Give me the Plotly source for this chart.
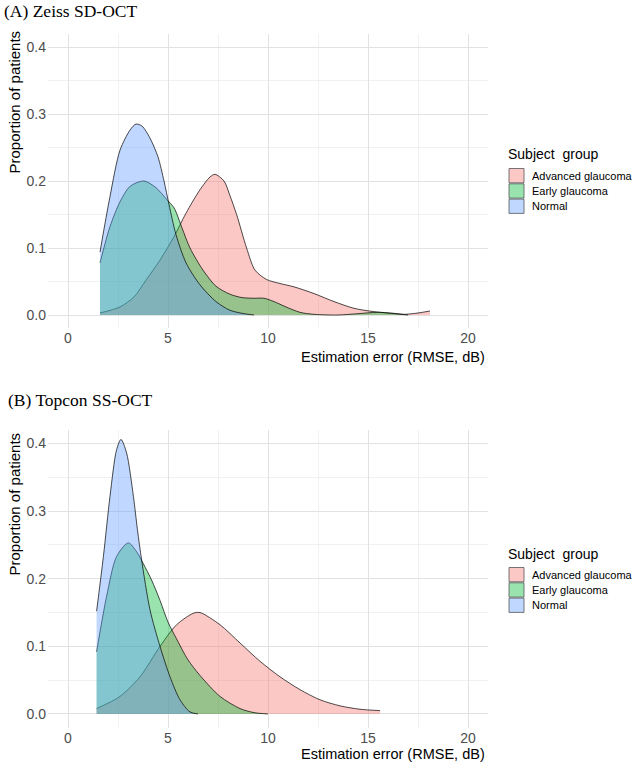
import plotly.graph_objects as go

# ---------------- data ----------------
groups = ["Advanced glaucoma", "Early glaucoma", "Normal"]
fill_colors = ["rgba(248,118,109,0.4)", "rgba(0,186,56,0.4)", "rgba(97,156,255,0.4)"]

# Panel A: Zeiss SD-OCT
zeiss_adv_x = [1.6, 2.6, 3.3, 3.9, 4.6, 5.3, 5.9, 6.6, 7.1, 7.35, 7.8, 8.1, 8.43, 8.93, 9.35, 9.93,
               10.6, 11.3, 12.3, 13.3, 14.3, 15.3, 16.3, 16.8, 17.5, 18.1]
zeiss_adv_y = [0.003, 0.012, 0.027, 0.052, 0.082, 0.117, 0.152, 0.187, 0.206, 0.210, 0.200, 0.178, 0.150,
               0.100, 0.067, 0.053, 0.047, 0.042, 0.032, 0.020, 0.010, 0.005, 0.0025, 0.001, 0.003, 0.006]

zeiss_early_x = [1.6, 2.1, 2.6, 3.1, 3.8, 4.4, 4.95, 5.3, 5.7, 6.1, 6.75, 7.4, 8.1, 8.7, 9.3, 9.8,
                 10.3, 10.9, 11.6, 12.3, 13.5, 14.5, 15.5, 16.3, 17.0]
zeiss_early_y = [0.078, 0.132, 0.169, 0.192, 0.200, 0.190, 0.172, 0.160, 0.130, 0.100, 0.067, 0.043, 0.031,
                 0.026, 0.025, 0.025, 0.020, 0.012, 0.004, 0.001, 0.0, 0.002, 0.004, 0.002, 0.0]

zeiss_norm_x = [1.6, 2.1, 2.6, 3.1, 3.4, 3.7, 4.1, 4.5, 4.8, 5.05, 5.4, 5.9, 6.6, 7.4, 8.1, 8.8, 9.3]
zeiss_norm_y = [0.094, 0.177, 0.246, 0.276, 0.285, 0.282, 0.264, 0.236, 0.200, 0.165, 0.120, 0.078,
                0.045, 0.020, 0.007, 0.002, 0.0]

# Panel B: Topcon SS-OCT
topcon_adv_x = [1.43, 2.6, 3.6, 4.6, 5.43, 6.27, 6.6, 7.6, 8.6, 9.6, 10.6, 11.6, 12.6, 13.6, 14.6, 15.6]
topcon_adv_y = [0.008, 0.026, 0.055, 0.100, 0.132, 0.149, 0.150, 0.132, 0.105, 0.078, 0.055, 0.036,
                0.021, 0.012, 0.007, 0.005]

topcon_early_x = [1.43, 1.93, 2.43, 3.02, 3.43, 3.77, 4.18, 4.6, 5.0, 5.5, 6.0, 6.6, 7.6, 8.6, 9.3, 10.0]
topcon_early_y = [0.092, 0.174, 0.233, 0.253, 0.240, 0.222, 0.198, 0.168, 0.136, 0.107, 0.080, 0.057,
                  0.026, 0.008, 0.002, 0.0]

topcon_norm_x = [1.43, 1.77, 2.1, 2.43, 2.65, 2.93, 3.27, 3.47, 3.68, 4.1, 4.6, 5.1, 5.6, 6.1, 6.5]
topcon_norm_y = [0.152, 0.233, 0.322, 0.391, 0.406, 0.386, 0.322, 0.273, 0.228, 0.154, 0.100, 0.055,
                 0.021, 0.003, 0.0]

x_ticks = [0, 5, 10, 15, 20]
y_ticks = [0.0, 0.1, 0.2, 0.3, 0.4]
panel_titles = ["(A) Zeiss SD-OCT", "(B) Topcon SS-OCT"]
x_title = "Estimation error (RMSE, dB)"
y_title = "Proportion of patients"
legend_title = "Subject\u00a0 group"

panels = [
    [(zeiss_adv_x, zeiss_adv_y), (zeiss_early_x, zeiss_early_y), (zeiss_norm_x, zeiss_norm_y)],
    [(topcon_adv_x, topcon_adv_y), (topcon_early_x, topcon_early_y), (topcon_norm_x, topcon_norm_y)],
]

# ---------------- figure ----------------
W, H = 633, 763
fig = go.Figure()

for p, series in enumerate(panels):
    xa = "x" if p == 0 else "x2"
    ya = "y" if p == 0 else "y2"
    for g, (xs, ys) in enumerate(series):
        fig.add_trace(go.Scatter(
            x=xs, y=ys, xaxis=xa, yaxis=ya, mode="lines",
            line=dict(color="black", width=0.7, shape="spline", smoothing=0.8),
            fill="tozeroy", fillcolor=fill_colors[g],
            name=groups[g], showlegend=False,
        ))

# pixel geometry
left, right = 48, 488
panels_px = [(33.6, 328.4), (430, 727.5)]  # (top, bottom)

def ydom(top, bottom):
    return [(H - bottom) / H, (H - top) / H]

def px(x):
    return x / W

def py(y):
    return (H - y) / H

grid_major = "#E2E2E2"
grid_minor = "#EEEEEE"
tickfont = dict(family="Liberation Sans, Arial", size=14, color="#4D4D4D")

common_x = dict(range=[-1, 21], tickvals=x_ticks, ticktext=[str(v) for v in x_ticks],
                showgrid=True, gridcolor=grid_major, gridwidth=1, zeroline=False,
                showline=False, ticks="", tickfont=tickfont, ticklabelstandoff=0,
                minor=dict(dtick=2.5, tick0=0, showgrid=True, gridcolor=grid_minor, gridwidth=0.8),
                domain=[left / W, right / W], fixedrange=True, automargin=False)
common_y = dict(range=[-0.02, 0.42], tickvals=y_ticks, ticktext=[f"{v:.1f}" for v in y_ticks],
                showgrid=True, gridcolor=grid_major, gridwidth=1, zeroline=False,
                showline=False, ticks="", tickfont=tickfont, ticklabelstandoff=1,
                minor=dict(dtick=0.05, tick0=0, showgrid=True, gridcolor=grid_minor, gridwidth=0.8),
                fixedrange=True, automargin=False)

fig.update_layout(
    width=W, height=H, autosize=False,
    margin=dict(l=0, r=0, t=0, b=0, autoexpand=False),
    paper_bgcolor="white", plot_bgcolor="white",
    font=dict(family="Liberation Sans, Arial", size=13, color="black"),
    showlegend=False,
    xaxis=dict(common_x, anchor="y"),
    yaxis=dict(common_y, anchor="x", domain=ydom(*panels_px[0])),
    xaxis2=dict(common_x, anchor="y2"),
    yaxis2=dict(common_y, anchor="x2", domain=ydom(*panels_px[1])),
)

annotations = []
shapes = []
title_pos = [(2, 11), (6, 400)]
xtitle_mid = [357, 754]
ytitle_top = [29, 431]
legend_title_y = [154, 553.5]
legend_key_top = [168, 567]
key_h = 15.3

for p in range(2):
    top, bottom = panels_px[p]
    tx, ty = title_pos[p]
    annotations.append(dict(text=panel_titles[p], xref="paper", yref="paper",
                            x=px(tx), y=py(ty), xanchor="left", yanchor="middle",
                            showarrow=False,
                            font=dict(family="Liberation Serif, Times New Roman", size=17.5, color="black")))
    annotations.append(dict(text=x_title, xref="paper", yref="paper",
                            x=px(right - 1), y=py(xtitle_mid[p]), xanchor="right", yanchor="middle",
                            showarrow=False, font=dict(size=14.5, color="black")))
    annotations.append(dict(text=y_title, xref="paper", yref="paper", textangle=-90,
                            x=px(14), y=py(ytitle_top[p]), xanchor="center", yanchor="top",
                            showarrow=False, font=dict(size=15, color="black")))
    # legend (ggplot-style square keys)
    annotations.append(dict(text=legend_title, xref="paper", yref="paper",
                            x=px(506), y=py(legend_title_y[p]), xanchor="left", yanchor="middle",
                            showarrow=False, font=dict(size=14, color="black")))
    for g in range(3):
        y0 = legend_key_top[p] + g * key_h
        shapes.append(dict(type="rect", xref="paper", yref="paper",
                           x0=px(509), x1=px(524), y0=py(y0 + 0.5), y1=py(y0 + key_h - 0.5),
                           fillcolor=fill_colors[g], line=dict(color="#555555", width=0.8)))
        annotations.append(dict(text=groups[g], xref="paper", yref="paper",
                                x=px(530), y=py(y0 + key_h / 2), xanchor="left", yanchor="middle",
                                showarrow=False, font=dict(size=11, color="black")))

fig.update_layout(annotations=annotations, shapes=shapes)

fig.write_html(
    "out.html",
    config={"displayModeBar": False, "staticPlot": True},
    post_script="document.body.style.margin='0';document.body.style.overflow='hidden';",
)
